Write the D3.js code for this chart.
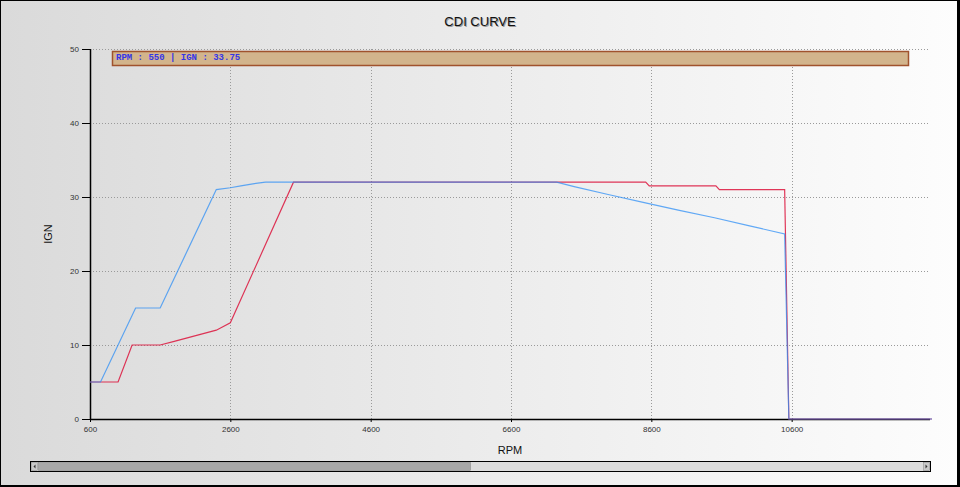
<!DOCTYPE html>
<html><head><meta charset="utf-8">
<script src="https://cdn.jsdelivr.net/npm/d3@7"></script>
<style>
html,body{margin:0;padding:0;background:#fff;}
svg{display:block;}
</style></head>
<body>
<svg id="chart" width="960" height="487"></svg>
<script>
// ---- data ----
const title = "CDI CURVE";
const xLabel = "RPM";
const yLabel = "IGN";
const xTicks = [600, 2600, 4600, 6600, 8600, 10600];
const yTicks = [0, 10, 20, 30, 40, 50];
const infoText = "RPM : 550 | IGN : 33.75";

const rpmRed = [600, 1000, 1200, 1600, 1800, 2000, 2200, 2400, 2600, 3500, 8520, 8570, 9520, 9570, 10500, 10560, 12600];
const ignRed = [5, 5, 10, 10, 10.5, 11, 11.5, 12, 13, 32, 32, 31.5, 31.5, 31, 31, 0, 0];

const rpmBlue = [600, 750, 1250, 1600, 2400, 2600, 2750, 2900, 3100, 7250, 7500, 8000, 8500, 9000, 9500, 10000, 10500, 10560, 12600];
const ignBlue = [5, 5, 15, 15, 31, 31.25, 31.5, 31.75, 32, 32, 31.4, 30.3, 29.25, 28.2, 27.2, 26.1, 25, 0, 0];

// ---- drawing ----
const svg = d3.select("#chart");
const W = 960, H = 487;
const defs = svg.append("defs");
const grad = defs.append("linearGradient").attr("id", "bg").attr("x1", "0").attr("x2", "1").attr("y1", "0").attr("y2", "0");
grad.append("stop").attr("offset", "0").attr("stop-color", "#dadada");
grad.append("stop").attr("offset", "1").attr("stop-color", "#fdfdfd");

svg.append("rect").attr("width", W).attr("height", H).attr("fill", "url(#bg)");

const x = d3.scaleLinear().domain([600, 12600]).range([90, 932]);
const y = d3.scaleLinear().domain([0, 50]).range([419, 49]);

// grid
const grid = svg.append("g").attr("stroke", "#9a9a9a").attr("stroke-width", 1).attr("stroke-dasharray", "1,2");
grid.selectAll("line.h").data(yTicks.filter(d => d > 0)).join("line")
  .attr("x1", 90).attr("x2", 928)
  .attr("y1", d => Math.round(y(d)) + 0.5).attr("y2", d => Math.round(y(d)) + 0.5);
grid.selectAll("line.v").data(xTicks.filter(d => d > 600)).join("line")
  .attr("y1", 49).attr("y2", 419)
  .attr("x1", d => Math.round(x(d)) + 0.5).attr("x2", d => Math.round(x(d)) + 0.5);

// info box
svg.append("rect").attr("x", 112.5).attr("y", 51.5).attr("width", 796).attr("height", 14)
  .attr("fill", "#d2b48c").attr("stroke", "#a0522d").attr("stroke-width", 1.5);
svg.append("text").attr("x", 116).attr("y", 60).text(infoText)
  .attr("font-family", "Liberation Mono, DejaVu Sans Mono, monospace").attr("font-weight", "bold")
  .attr("font-size", 9).attr("fill", "#3535e8");

// axes
const xAxis = d3.axisBottom(x).tickValues(xTicks).tickSize(3).tickFormat(d3.format("d"));
const yAxis = d3.axisLeft(y).tickValues(yTicks).tickSize(8).tickPadding(3).tickFormat(d3.format("d"));

const gx = svg.append("g").attr("transform", "translate(0,419)").call(xAxis);
gx.select(".domain").attr("d", `M90,0.5H930`).attr("stroke", "#000").attr("stroke-width", 1.5);
gx.selectAll(".tick line").attr("stroke", "#000");
gx.selectAll(".tick text").attr("font-family", "Liberation Sans, Arial, sans-serif").attr("font-size", 8).attr("fill", "#333").attr("dy", "0.9em");

const gy = svg.append("g").attr("transform", "translate(90,0)").call(yAxis);
gy.select(".domain").attr("d", `M0.5,49V419`).attr("stroke", "#000").attr("stroke-width", 1.5);
gy.selectAll(".tick line").attr("stroke", "#000");
gy.selectAll(".tick text").attr("font-family", "Liberation Sans, Arial, sans-serif").attr("font-size", 8).attr("fill", "#333");

// lines
const line = d3.line().x(d => x(d[0])).y(d => y(d[1]));
const redData = rpmRed.map((r, i) => [r, ignRed[i]]);
const blueData = rpmBlue.map((r, i) => [r, ignBlue[i]]);
svg.append("path").datum(redData).attr("d", line).attr("fill", "none")
  .attr("stroke", "#dc143c").attr("stroke-width", 1.2).attr("stroke-opacity", 0.85);
svg.append("path").datum(blueData).attr("d", line).attr("fill", "none")
  .attr("stroke", "#2f8ff5").attr("stroke-width", 1.2).attr("stroke-opacity", 0.75);

// title & labels
svg.append("text").attr("x", 481).attr("y", 27).attr("text-anchor", "middle").text(title)
  .attr("font-family", "Liberation Sans, Arial, sans-serif").attr("font-size", 13).attr("fill", "#999");
svg.append("text").attr("x", 480).attr("y", 26).attr("text-anchor", "middle").text(title)
  .attr("font-family", "Liberation Sans, Arial, sans-serif").attr("font-size", 13).attr("fill", "#111");
svg.append("text").attr("x", 510).attr("y", 454).attr("text-anchor", "middle").text(xLabel)
  .attr("font-family", "Liberation Sans, Arial, sans-serif").attr("font-size", 11).attr("fill", "#111");
svg.append("text").attr("transform", "translate(52,234) rotate(-90)").attr("text-anchor", "middle").text(yLabel)
  .attr("font-family", "Liberation Sans, Arial, sans-serif").attr("font-size", 11).attr("fill", "#111");

// scrollbar
const sb = svg.append("g");
sb.append("rect").attr("x", 30.5).attr("y", 461.5).attr("width", 900).attr("height", 10)
  .attr("fill", "#dcdcdc").attr("stroke", "#000").attr("stroke-width", 1);
sb.append("rect").attr("x", 38.5).attr("y", 462.5).attr("width", 432).attr("height", 8)
  .attr("fill", "#a8a8a8").attr("stroke", "#808080").attr("stroke-width", 0.5);
sb.append("rect").attr("x", 31.5).attr("y", 462.5).attr("width", 6).attr("height", 8).attr("fill", "#c8c8c8").attr("stroke", "#888").attr("stroke-width", 0.5);
sb.append("rect").attr("x", 923.5).attr("y", 462.5).attr("width", 6).attr("height", 8).attr("fill", "#c8c8c8").attr("stroke", "#888").attr("stroke-width", 0.5);
sb.append("path").attr("d", "M33.5,466.5 L35.5,464.5 L35.5,468.5 Z").attr("fill", "#333");
sb.append("path").attr("d", "M927.5,466.5 L925.5,464.5 L925.5,468.5 Z").attr("fill", "#333");

// frame
svg.append("rect").attr("x", 0.5).attr("y", 0.5).attr("width", 958).attr("height", 485)
  .attr("fill", "none").attr("stroke", "#000").attr("stroke-width", 1);
svg.append("rect").attr("x", 957).attr("y", 0).attr("width", 3).attr("height", H).attr("fill", "#000");
svg.append("rect").attr("x", 0).attr("y", 485).attr("width", W).attr("height", 2).attr("fill", "#000");
</script>
</body></html>
